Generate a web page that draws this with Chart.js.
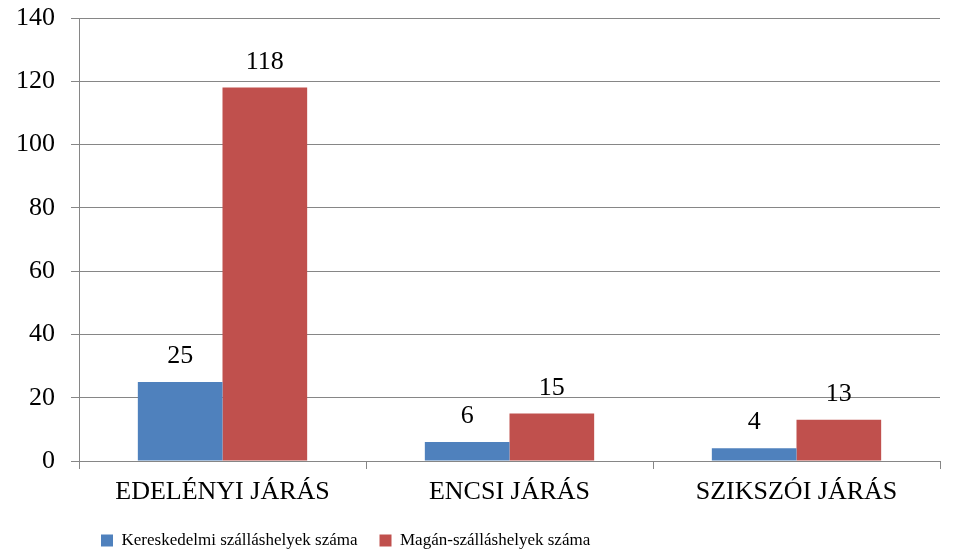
<!DOCTYPE html>
<html>
<head>
<meta charset="utf-8">
<script src="https://cdn.jsdelivr.net/npm/chart.js@4.4.0/dist/chart.umd.min.js"></script>
<style>
  html, body { margin: 0; padding: 0; background: #fff; }
  #wrap { width: 957px; height: 559px; }
</style>
</head>
<body>
<div id="wrap"><canvas id="chart"></canvas></div>
<script>
// Adatok
const categories = ['EDELÉNYI JÁRÁS', 'ENCSI JÁRÁS', 'SZIKSZÓI JÁRÁS'];
const kereskedelmi = [25, 6, 4];
const magan = [118, 15, 13];
const seriesNames = ['Kereskedelmi szálláshelyek száma', 'Magán-szálláshelyek száma'];

const serif = "'Liberation Serif', 'Times New Roman', serif";
const gridColor = '#868686';

// Értékcímkék az oszlopok fölé
const valueLabels = {
    id: 'valueLabels',
    afterDatasetsDraw(chart) {
        const ctx = chart.ctx;
        ctx.save();
        ctx.font = '26px ' + serif;
        ctx.fillStyle = '#000';
        ctx.textAlign = 'center';
        ctx.textBaseline = 'alphabetic';
        chart.data.datasets.forEach((ds, i) => {
            chart.getDatasetMeta(i).data.forEach((bar, j) => {
                ctx.fillText(ds.data[j], bar.x, bar.y - 19);
            });
        });
        ctx.restore();
    }
};

new Chart(document.getElementById('chart'), {
    type: 'bar',
    data: {
        labels: categories,
        datasets: [{
            label: seriesNames[0],
            data: kereskedelmi,
            backgroundColor: '#4F81BD'
        }, {
            label: seriesNames[1],
            data: magan,
            backgroundColor: '#C0504D'
        }]
    },
    options: {
        responsive: true,
        maintainAspectRatio: false,
        animation: false,
        layout: { padding: { left: 0, right: 17, top: 18, bottom: 0 } },
        datasets: { bar: { categoryPercentage: 0.59, barPercentage: 1 } },
        plugins: {
            tooltip: { enabled: false },
            legend: {
                position: 'bottom',
                align: 'start',
                fullSize: false,
                labels: {
                    color: '#000',
                    font: { family: serif, size: 17 },
                    boxWidth: 12,
                    boxHeight: 12,
                    padding: 22
                }
            }
        },
        scales: {
            x: {
                offset: true,
                border: { color: gridColor },
                grid: { offset: true, drawOnChartArea: false, color: gridColor, tickLength: 8 },
                ticks: { color: '#000', font: { family: serif, size: 26 }, padding: 8 },
                afterFit(scale) { scale.height = 49; }
            },
            y: {
                min: 0,
                max: 140,
                border: { color: gridColor },
                grid: { color: gridColor, tickLength: 8 },
                ticks: { stepSize: 20, color: '#000', font: { family: serif, size: 26, lineHeight: 0.1 }, padding: 16 },
                afterFit(scale) { scale.width = 79; }
            }
        }
    },
    plugins: [valueLabels]
});
</script>
</body>
</html>
